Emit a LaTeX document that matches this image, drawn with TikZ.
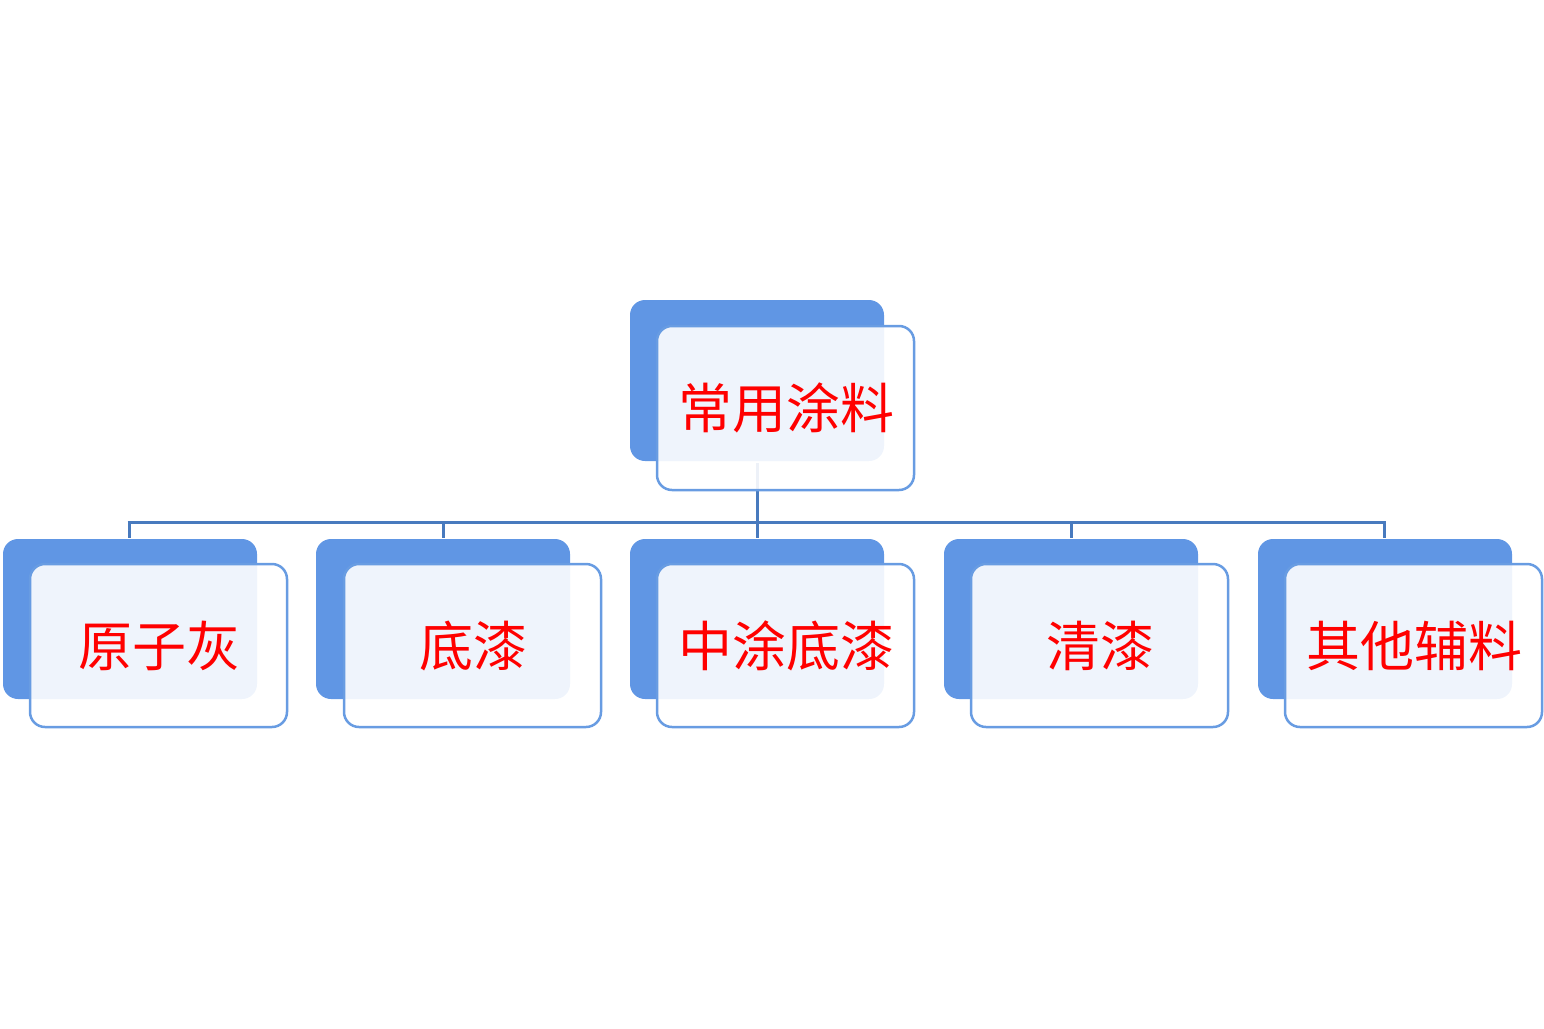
\documentclass[tikz,border=0pt]{standalone}
\usepackage{fontspec}
\newfontfamily\cjk{Noto Sans CJK SC}
\definecolor{backblue}{RGB}{96,150,228}
\definecolor{edgeblue}{RGB}{104,156,226}
\definecolor{linkblue}{RGB}{72,122,190}
\definecolor{txtred}{RGB}{255,0,0}
\tikzset{
  backbox/.style={fill=backblue, rounded corners=15pt},
  frontbox/.style={draw=edgeblue, line width=2.5pt, fill=white, fill opacity=0.9, draw opacity=1, rounded corners=15pt},
  label/.style={text=txtred, font=\cjk\fontsize{54}{62}\selectfont, inner sep=0pt},
  link/.style={draw=linkblue, line width=3pt},
}
\begin{document}
\begin{tikzpicture}[x=1pt,y=-1pt]
\useasboundingbox (0,0) rectangle (1544,1028);
% back rectangles
\path[backbox] (630,300) rectangle (884,461);
\coordinate (topback) at (757,463);
\foreach \i/\x in {1/3,2/316,3/630,4/944,5/1258}{
  \path[backbox] (\x,539) rectangle ({\x+254},699);
}
\foreach \i/\cx in {1/129,2/443,3/757,4/1071,5/1384}{
  \coordinate (tick\i) at (\cx,538);
  \coordinate (bar\i) at (\cx,522);
}
% connectors
\draw[link] (topback) -- (bar3);
\draw[link] ([xshift=-1.5pt]bar1) -- ([xshift=1.5pt]bar5);
\foreach \i in {1,...,5}{ \draw[link] (bar\i) -- (tick\i); }
% front boxes
\path[frontbox] (657,326) rectangle (914,490);
\node[label] (root) at (786.5,408) {常用涂料};
\foreach \i/\x/\t in {1/30/原子灰,2/344/底漆,3/657/中涂底漆,4/971/清漆,5/1285/其他辅料}{
  \path[frontbox] (\x,564) rectangle ({\x+257},727);
  \node[label] (c\i) at ({\x+129},645.5) {\t};
}
\end{tikzpicture}
\end{document}
